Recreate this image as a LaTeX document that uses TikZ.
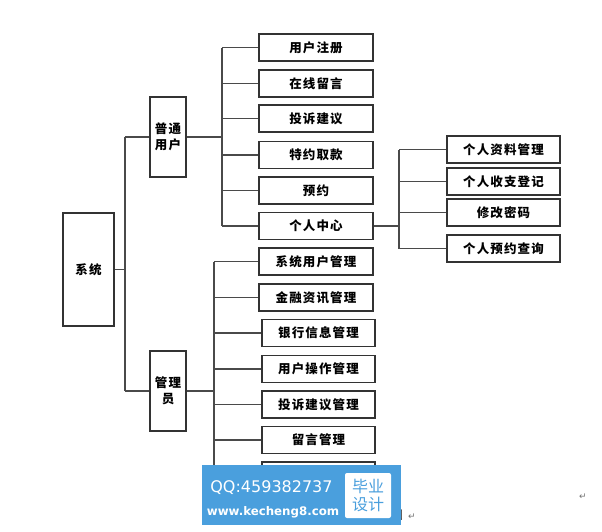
\documentclass[tikz,border=0pt]{standalone}
\usepackage{fontspec}
\newfontfamily\cjk{Noto Sans CJK SC}
\newfontfamily\cjkbox{Noto Sans CJK SC}[LetterSpace=9]
\newfontfamily\dejavu{DejaVu Sans}
\definecolor{wmblue}{HTML}{4A9FDD}
\definecolor{linegray}{HTML}{4A4A4A}
\begin{document}
\begin{tikzpicture}[x=1pt,y=-1pt,
  box/.style={draw=black!80,line width=1.1pt,fill=white,inner sep=0pt,
    font=\cjkbox\bfseries\fontsize{12.5}{15.5}\selectfont,align=center},
  leaf/.style={box,minimum width=114pt,minimum height=27pt},
  sub/.style={box,minimum width=113pt,minimum height=27pt},
  tall/.style={box,minimum width=36pt,minimum height=80pt},
  conn/.style={draw=linegray,line width=1.2pt},
  parmark/.style={font=\dejavu\fontsize{9}{9}\selectfont,text=black!55,inner sep=0pt}]
\useasboundingbox (0,0) rectangle (602,531);
\fill[white] (0,0) rectangle (602,531);

% level 0 and 1
\node[box,minimum width=51pt,minimum height=113pt] (sys) at (88.5,269.5) {系统};
\node[tall] (pt) at (168,137) {普通\\用户};
\node[tall] (gl) at (168,391) {管理\\员};

% ordinary user children
\node[leaf] (a1) at (316,47.5) {用户注册};
\node[leaf] (a2) at (316,83.5) {在线留言};
\node[leaf] (a3) at (316,118.5) {投诉建议};
\node[leaf] (a4) at (316,155) {特约取款};
\node[leaf] (a5) at (316,190.5) {预约};
\node[leaf] (a6) at (316,226) {个人中心};

% personal centre children
\node[sub] (b1) at (503.5,149.5) {个人资料管理};
\node[sub] (b2) at (503.5,181.5) {个人收支登记};
\node[sub] (b3) at (503.5,212.5) {修改密码};
\node[sub] (b4) at (503.5,248.5) {个人预约查询};

% admin children
\node[leaf] (c1) at (316,261.5) {系统用户管理};
\node[leaf] (c2) at (316,297.5) {金融资讯管理};
\node[sub] (c3) at (318.5,333) {银行信息管理};
\node[sub] (c4) at (318.5,369) {用户操作管理};
\node[sub] (c5) at (318.5,404.5) {投诉建议管理};
\node[sub] (c6) at (318.5,440) {留言管理};
\node[sub] (c7) at (318.5,475.5) {};

% bus coordinates
\coordinate (lb) at (125,0);
\coordinate (ub) at (222,0);
\coordinate (pb) at (399,0);
\coordinate (ab) at (214,0);

% system -> level 1
\draw[conn] (sys.east) -- (sys.east -| lb);
\draw[conn] (lb |- pt.west) -- (lb |- gl.west);
\draw[conn] (lb |- pt.west) -- (pt.west);
\draw[conn] (lb |- gl.west) -- (gl.west);

% ordinary user
\draw[conn] (pt.east) -- (pt.east -| ub);
\draw[conn] (ub |- a1.west) -- (ub |- a6.west);
\foreach \n in {a1,a2,a3,a4,a5,a6} \draw[conn] (ub |- \n.west) -- (\n.west);

% personal centre
\draw[conn] (a6.east) -- (a6.east -| pb);
\draw[conn] (pb |- b1.west) -- (pb |- b4.west);
\foreach \n in {b1,b2,b3,b4} \draw[conn] (pb |- \n.west) -- (\n.west);

% admin
\draw[conn] (gl.east) -- (gl.east -| ab);
\draw[conn] (ab |- c1.west) -- (ab |- c7.west);
\foreach \n in {c1,c2,c3,c4,c5,c6,c7} \draw[conn] (ab |- \n.west) -- (\n.west);

% word marks
\node[font=\cjk\fontsize{12}{12}\selectfont,text=black!70,inner sep=0pt] (tu) at (397,515) {图};
\node[parmark] (m1) at (412,517) {↵};
\node[parmark] (m2) at (583,497) {↵};

% watermark
\node[fill=wmblue,minimum width=199pt,minimum height=60pt,inner sep=0pt] (wm) at (301.5,495) {};
\node[text=white,font=\dejavu\fontsize{16}{16}\selectfont,inner sep=0pt] (wq) at (271.5,488) {QQ:459382737};
\node[text=white,font=\dejavu\bfseries\fontsize{11.8}{11.8}\selectfont,inner sep=0pt] (ww) at (273,512) {www.kecheng8.com};
\node[fill=white,rounded corners=2pt,minimum width=46pt,minimum height=45pt,inner sep=0pt,
  text=wmblue,font=\cjk\fontsize{16}{18}\selectfont,align=center] (wb) at (368,495.5) {毕业\\设计};
\end{tikzpicture}
\end{document}
